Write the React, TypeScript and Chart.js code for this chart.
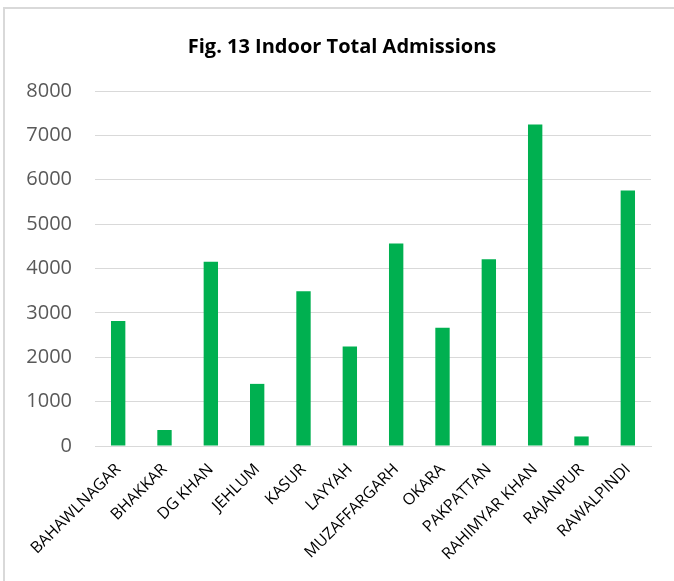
import React, { useEffect, useRef } from "react";
import { Chart, registerables } from "chart.js";

Chart.register(...registerables);

const categories: string[] = [
  "BAHAWLNAGAR",
  "BHAKKAR",
  "DG KHAN",
  "JEHLUM",
  "KASUR",
  "LAYYAH",
  "MUZAFFARGARH",
  "OKARA",
  "PAKPATTAN",
  "RAHIMYAR KHAN",
  "RAJANPUR",
  "RAWALPINDI",
];

const admissions: number[] = [2815, 360, 4150, 1400, 3490, 2245, 4565, 2665, 4210, 7245, 215, 5755];

const titleText = "Fig. 13 Indoor Total Admissions";
const yMin = 0;
const yMax = 8000;
const yStep = 1000;

const titlePlugin = {
  id: "customTitle",
  afterDraw(chart: any) {
    const ctx = chart.ctx;
    ctx.save();
    ctx.fillStyle = "#000000";
    ctx.font = "bold 20px 'Open Sans', sans-serif";
    ctx.textAlign = "center";
    ctx.textBaseline = "alphabetic";
    ctx.fillText(titleText, (chart.width + 10) / 2, 53);
    ctx.restore();
  },
};

export default function App() {
  const canvasRef = useRef<HTMLCanvasElement | null>(null);

  useEffect(() => {
    if (!canvasRef.current) return;
    const chart = new Chart(canvasRef.current, {
      type: "bar",
      data: {
        labels: categories,
        datasets: [
          {
            label: "Admissions",
            data: admissions,
            backgroundColor: "#00B050",
            borderWidth: 0,
            barPercentage: 0.31,
            categoryPercentage: 1,
          },
        ],
      },
      options: {
        animation: false,
        responsive: false,
        maintainAspectRatio: false,
        layout: { padding: { left: 0, right: 23, top: 91, bottom: 0 } },
        plugins: {
          legend: { display: false },
          tooltip: { enabled: false },
          title: { display: false },
        },
        scales: {
          x: {
            grid: { display: false, drawTicks: false },
            border: { display: true, color: "#d9d9d9", width: 1 },
            ticks: {
              color: "#000000",
              font: { family: "'Open Sans', sans-serif", size: 16 },
              minRotation: 45,
              maxRotation: 45,
              autoSkip: false,
              padding: 14,
            },
            afterFit: (scale: any) => {
              scale.height = 135;
            },
          },
          y: {
            min: yMin,
            max: yMax,
            grid: { color: "#d9d9d9", lineWidth: 1, drawTicks: false },
            border: { display: false },
            ticks: {
              stepSize: yStep,
              color: "#595959",
              font: { family: "'Open Sans', sans-serif", size: 20 },
              padding: 23,
              callback: (v: any) => String(v),
            },
            afterFit: (scale: any) => {
              scale.width = 95;
            },
          },
        },
      },
      plugins: [titlePlugin],
    });
    return () => chart.destroy();
  }, []);

  return (
    <div style={{ position: "fixed", left: 0, top: 0, width: 674, height: 581, background: "#ffffff", overflow: "hidden" }}>
      <div
        style={{
          position: "absolute",
          left: 3,
          top: 7,
          width: 720,
          height: 620,
          border: "2px solid #d9d9d9",
          boxSizing: "border-box",
        }}
      />
      <canvas ref={canvasRef} width={674} height={581} style={{ position: "absolute", left: 0, top: 0 }} />
    </div>
  );
}
